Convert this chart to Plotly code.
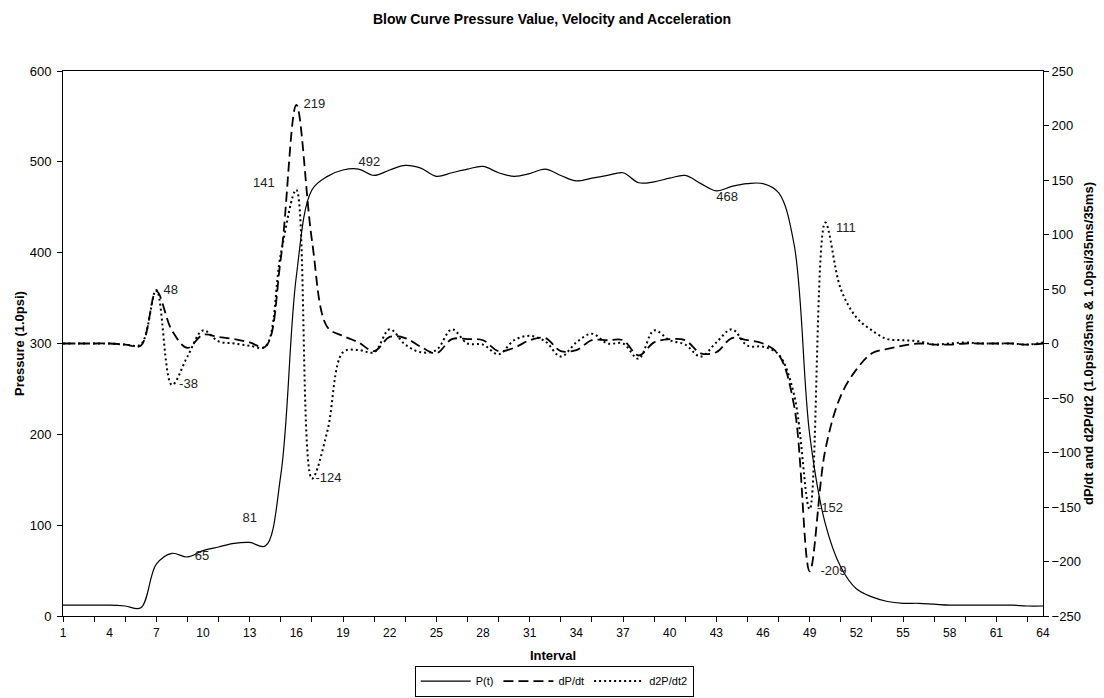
import plotly.graph_objects as go

# ---------------- data ----------------
interval = list(range(1, 65))

pressure = [12, 12, 12, 12, 11, 9, 57, 69, 65, 72,
            76, 80, 81, 77, 155, 374, 469, 484, 491, 492,
            485, 491, 496, 493, 484, 488, 492, 495, 488, 484,
            487, 492, 485, 479, 482, 485, 488, 477, 478, 482,
            485, 476, 468, 473, 476, 476, 466, 409, 200, 102,
            54, 30, 21, 16, 14, 14, 13, 12, 12, 12,
            12, 12, 11, 11]

velocity = [0, 0, 0, 0, -1, -2, 48, 12, -4, 8,
            6, 4, 1, -3, 78, 219, 95, 15, 7, 1,
            -7, 6, 5, -3, -9, 4, 4, 3, -7, -4,
            3, 5, -7, -6, 3, 3, 3, -11, 1, 4,
            3, -9, -8, 5, 3, 0, -10, -57, -209, -98,
            -48, -24, -9, -5, -2, 0, -1, -1, 0, 0,
            0, 0, -1, 0]

acceleration = [0, 0, 0, 0, -1, -1, 49, -38, -12, 12,
                2, 0, -2, -3, 82, 141, -124, -80, -8, -6,
                -8, 13, -1, -8, -6, 13, 0, -1, -10, 3,
                7, 2, -12, 1, 9, 0, 0, -14, 12, 3,
                -1, -12, 1, 13, -2, -3, -10, -47, -152, 111,
                50, 24, 12, 4, 3, 2, -1, 0, 1, 0,
                0, 0, -1, 1]

x_label_ticks = list(range(1, 65, 3))
x_mark_ticks = list(range(1, 64, 2))

# labelled points (interval numbers), where their text sits, and padding
p_label_at = [9, 13, 20, 43]
p_label_pos = ["middle right", "top center", "top right", "bottom right"]
p_label_pad = [2, 0, 0, 0]
v_label_at = [7, 16, 49]
v_label_pos = ["middle right", "middle right", "middle right"]
v_label_pad = [2, 2, 3]
a_label_at = [8, 16, 17, 49, 50]
a_label_pos = ["middle right", "top left", "middle right", "middle right", "bottom right"]
a_label_pad = [2, 6, 1, 2, 3]

FONT = "Liberation Sans, Arial, sans-serif"
NB = "\u00a0"

fig = go.Figure()

fig.add_trace(go.Scatter(
    x=interval, y=pressure, name="P(t)", mode="lines",
    line=dict(color="black", width=1.2, shape="spline", smoothing=1.0),
    xaxis="x", yaxis="y", hoverinfo="skip"))
fig.add_trace(go.Scatter(
    x=interval, y=velocity, name="dP/dt", mode="lines",
    line=dict(color="black", width=1.8, dash="10px,5px", shape="spline", smoothing=1.0),
    xaxis="x", yaxis="y2", hoverinfo="skip"))
fig.add_trace(go.Scatter(
    x=interval, y=acceleration, name="d2P/dt2", mode="lines",
    line=dict(color="black", width=2, dash="2px,3px", shape="spline", smoothing=1.0),
    xaxis="x", yaxis="y2", hoverinfo="skip"))


def label_trace(idx, pos, pad, series, xa, ya, raise_one=()):
    texts = []
    for i, p, n in zip(idx, pos, pad):
        t = str(series[i - 1])
        if "left" in p:
            t = t + NB * n
        else:
            t = NB * n + t
        if i in raise_one:
            t = t + "<br>" + NB
        texts.append(t)
    return go.Scatter(
        x=[interval[i - 1] for i in idx],
        y=[series[i - 1] for i in idx],
        text=texts, textposition=pos, mode="text",
        showlegend=False, hoverinfo="skip",
        textfont=dict(family=FONT, size=13, color="#222222"),
        xaxis=xa, yaxis=ya)


# pressure labels live on the label-carrying x axis (x2), which overlays x
fig.add_trace(label_trace(p_label_at, p_label_pos, p_label_pad, pressure, "x2", "y",
                          raise_one=(13,)))
fig.add_trace(label_trace(v_label_at, v_label_pos, v_label_pad, velocity, "x", "y2"))
fig.add_trace(label_trace(a_label_at, a_label_pos, a_label_pad, acceleration, "x", "y2"))

TICKF = dict(family=FONT, size=13, color="black")
TITLEF = dict(family=FONT, size=13, color="black")

fig.update_layout(
    width=1104, height=698,
    margin=dict(l=63, r=61, t=71, b=82),
    paper_bgcolor="white", plot_bgcolor="white",
    font=dict(family=FONT, size=11, color="black"),
    title=dict(text="<b>Blow Curve Pressure Value, Velocity and Acceleration</b>",
               x=0.5, xanchor="center", y=0.973, yanchor="middle",
               font=dict(family=FONT, size=14, color="black")),
    xaxis=dict(range=[1, 64], tickmode="array", tickvals=x_mark_ticks,
               ticks="outside", ticklen=5, tickcolor="black", showticklabels=False,
               showline=True, linecolor="black", linewidth=1, mirror=True,
               showgrid=False, zeroline=False, automargin=False),
    xaxis2=dict(range=[1, 64], overlaying="x", anchor="y", side="bottom",
                tickmode="array", tickvals=x_label_ticks,
                ticks="outside", ticklen=6, tickcolor="rgba(0,0,0,0)",
                showline=False, showgrid=False, zeroline=False, automargin=False,
                tickfont=dict(family=FONT, size=12, color="black"),
                title=dict(text="<b>Interval</b>", standoff=11, font=TITLEF)),
    yaxis=dict(range=[0, 600], tickmode="linear", tick0=0, dtick=100,
               ticks="outside", ticklen=5, tickcolor="black",
               showline=True, linecolor="black", linewidth=1,
               showgrid=False, zeroline=False, automargin=False,
               tickfont=TICKF, ticklabelstandoff=3,
               title=dict(text="<b>Pressure (1.0psi)</b>", standoff=2, font=TITLEF)),
    yaxis2=dict(range=[-250, 250], tickmode="linear", tick0=-250, dtick=50,
                overlaying="y", side="right", anchor="x",
                ticks="outside", ticklen=5, tickcolor="black",
                showline=True, linecolor="black", linewidth=1,
                showgrid=False, zeroline=False, automargin=False,
                tickfont=TICKF,
                title=dict(text="<b>dP/dt and d2P/dt2 (1.0psi/35ms & 1.0psi/35ms/35ms)</b>",
                           standoff=3, font=TITLEF)),
    legend=dict(orientation="h", xref="container", yref="container",
                x=0.502, xanchor="center", y=0.002, yanchor="bottom",
                bordercolor="black", borderwidth=1, bgcolor="white",
                font=dict(family=FONT, size=11, color="black"),
                itemwidth=50, tracegroupgap=0),
    showlegend=True,
)

fig.write_html("out.html", config={"displayModeBar": False},
               post_script="document.body.style.margin='0px';")
